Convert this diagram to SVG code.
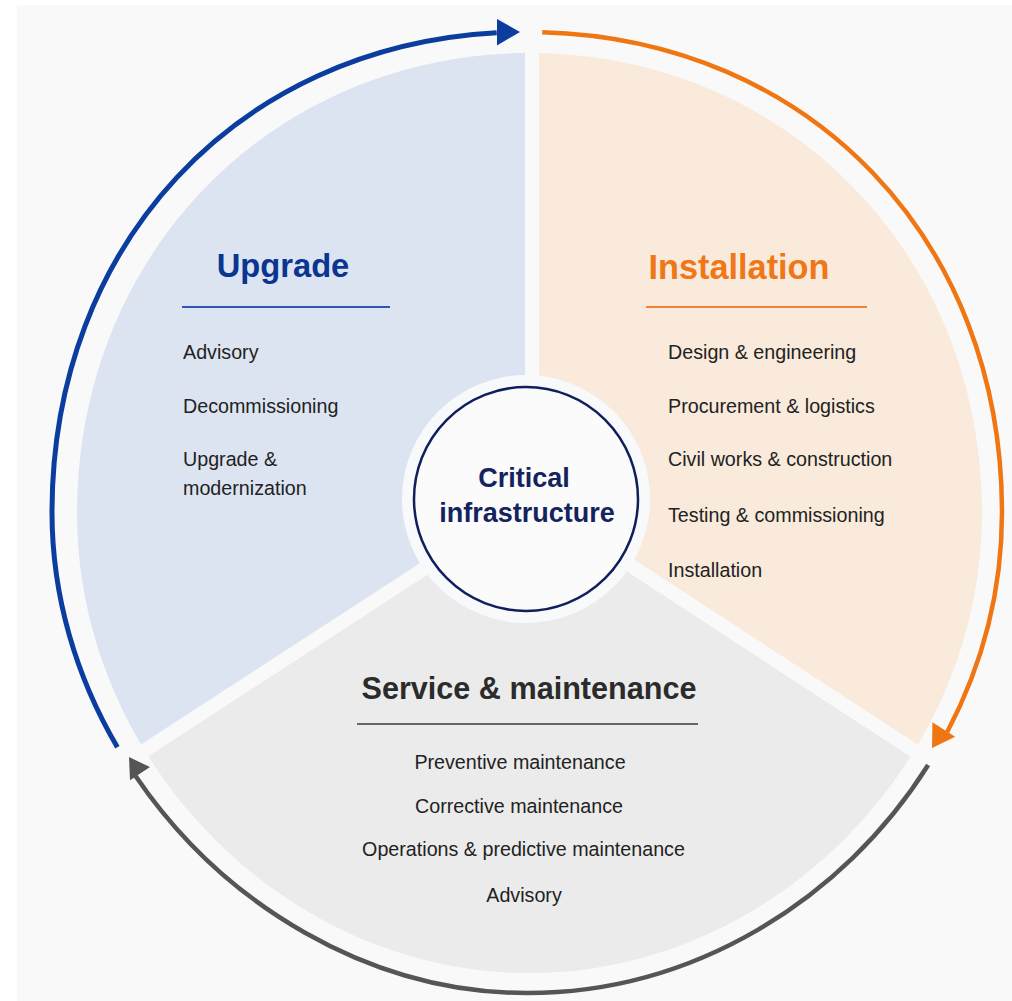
<svg xmlns="http://www.w3.org/2000/svg" width="1012" height="1001" viewBox="0 0 1012 1001">
<defs>
<style>
.t{font-family:"Liberation Sans",Arial,sans-serif;font-weight:700}
.i{font-family:"Liberation Sans",Arial,sans-serif;font-size:19.7px;fill:#222222}
.arc{fill:none;stroke-linecap:butt}
</style>
<clipPath id="pie"><path d="M529.5,53 C785.2,53 982,253.1 982,513 C982,761.4 773.9,973 529.5,973 C285.1,973 77,761.4 77,513 C77,253.1 273.8,53 529.5,53 Z"/></clipPath>
</defs>
<rect x="0" y="0" width="1012" height="1001" fill="#f9f9fa"/>
<rect x="0" y="0" width="1012" height="5" fill="#ffffff"/>
<rect x="0" y="0" width="17" height="1001" fill="#ffffff"/>

<g id="upgrade">
<polygon points="525,495 525,0 0,0 0,836" fill="#dce4f2" clip-path="url(#pie)"/>
<text class="t" x="283" y="277" text-anchor="middle" font-size="32.7" fill="#0a3590">Upgrade</text>
<line x1="182" y1="307" x2="390" y2="307" stroke="#2f58b3" stroke-width="2"/>
<text class="i" x="183" y="359">Advisory</text>
<text class="i" x="183" y="413">Decommissioning</text>
<text class="i" x="183" y="466">Upgrade &amp;</text>
<text class="i" x="183" y="495">modernization</text>
</g>

<g id="installation">
<polygon points="539,497.5 539,0 1012,0 1012,806" fill="#f9eadc" clip-path="url(#pie)"/>
<text class="t" x="739" y="279" text-anchor="middle" font-size="34.3" fill="#f07718">Installation</text>
<line x1="646" y1="307" x2="867" y2="307" stroke="#f2813a" stroke-width="2"/>
<text class="i" x="668" y="359">Design &amp; engineering</text>
<text class="i" x="668" y="412.5">Procurement &amp; logistics</text>
<text class="i" x="668" y="465.5">Civil works &amp; construction</text>
<text class="i" x="668" y="521.5">Testing &amp; commissioning</text>
<text class="i" x="668" y="576.5">Installation</text>
</g>

<g id="service-maintenance">
<polygon points="530,508.3 0,852.5 0,1001 1012,1001 1012,823" fill="#ebebeb" clip-path="url(#pie)"/>
<text class="t" x="529" y="699" text-anchor="middle" font-size="30.6" fill="#2b2b2b">Service &amp; maintenance</text>
<line x1="357" y1="724" x2="698" y2="724" stroke="#666666" stroke-width="2"/>
<text class="i" x="520" y="769" text-anchor="middle">Preventive maintenance</text>
<text class="i" x="519" y="812.5" text-anchor="middle">Corrective maintenance</text>
<text class="i" x="523.5" y="856" text-anchor="middle">Operations &amp; predictive maintenance</text>
<text class="i" x="524" y="901.5" text-anchor="middle">Advisory</text>
</g>

<g id="critical-infrastructure">
<circle cx="526" cy="499" r="124" fill="#f8f9fa"/>
<circle cx="526" cy="499" r="112" fill="#fbfbfc" stroke="#101f5c" stroke-width="2.5"/>
<text class="t" x="524" y="487" text-anchor="middle" font-size="27" fill="#14235e">Critical</text>
<text class="t" x="527" y="522" text-anchor="middle" font-size="27" fill="#14235e">infrastructure</text>
</g>

<g id="connectors">
<path class="arc" pathLength="1000" d="M527,993 C275.25,993 52,767.2 52,512.5 C52,233.8 251.5,32 527,32 C802.5,32 1002,233.8 1002,512.5 C1002,772 783.5,993 527,993 Z" stroke="#0b3d9e" stroke-width="5" stroke-dasharray="0 166.1 323.5 2000"/>
<polygon points="520,32 497,19 497,45.5" fill="#0b3d9e"/>
<path class="arc" pathLength="1000" d="M527,993 C275.25,993 52,767.2 52,512.5 C52,233.8 251.5,32 527,32 C802.5,32 1002,233.8 1002,512.5 C1002,772 783.5,993 527,993 Z" stroke="#f07613" stroke-width="4.5" stroke-dasharray="0 504.7 322.5 2000"/>
<polygon points="932,748 955.2,736.8 932.4,722.2" fill="#f07613"/>
<path class="arc" pathLength="1000" d="M527,993 C275.25,993 52,767.2 52,512.5 C52,233.8 251.5,32 527,32 C802.5,32 1002,233.8 1002,512.5 C1002,772 783.5,993 527,993 Z" stroke="#555555" stroke-width="4.5" stroke-dasharray="154.8 685.1 160.1 2000"/>
<polygon points="129,757 150,767.1 130,780.3" fill="#555555"/>
</g>
</svg>
